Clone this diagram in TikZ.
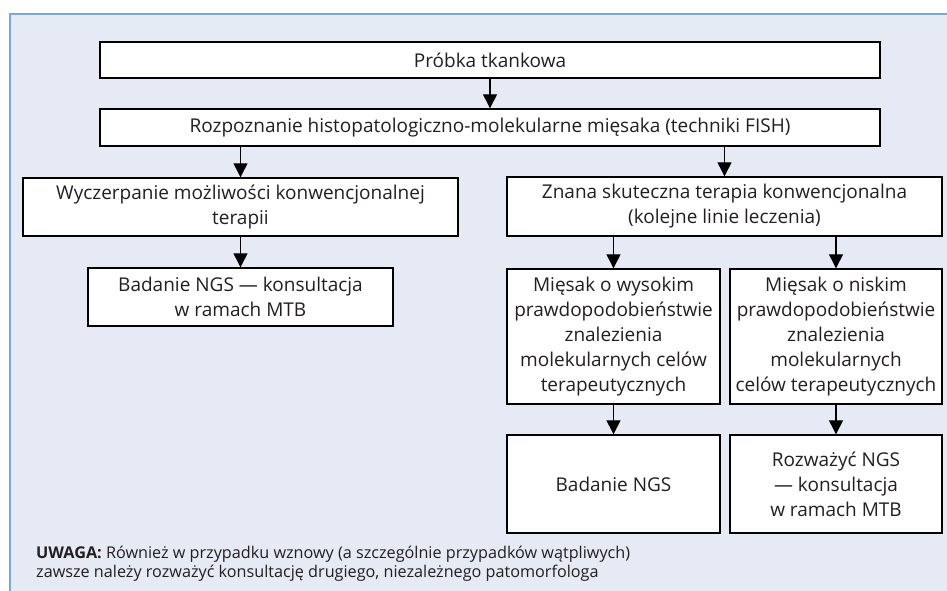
\documentclass[tikz,border=0pt]{standalone}
\usepackage{fontspec}
\setmainfont{Open Sans}
\usepackage{tikz}
\usetikzlibrary{positioning,calc,arrows.meta}
\definecolor{framefill}{RGB}{229,234,245}
\definecolor{frameline}{RGB}{128,166,212}
\definecolor{textgrey}{RGB}{35,31,32}

\tikzset{
  box/.style={draw=black, fill=white, line width=1.4pt, align=center, inner sep=0pt,
              text=textgrey, font=\fontsize{19}{25}\selectfont},
  arr/.style={line width=1.3pt, -{Triangle[length=14pt,width=14pt]}}
}

\begin{document}
\begin{tikzpicture}[x=1pt,y=-1pt]
    \useasboundingbox (0,0) rectangle (947,591);
    \fill[framefill] (10,14) rectangle (947,591);
    \draw[frameline, line width=1.6pt] (947,14) -- (10,14) -- (10,591);

    \node[box, minimum width=780, minimum height=36] (probka) at (490,60) {Próbka tkankowa};
    \node[box, minimum width=780, minimum height=37] (rozp) at (490,127.5)
      {Rozpoznanie histopatologiczno-molekularne mięsaka (techniki FISH)};

    \node[box, minimum width=435, minimum height=58] (wycz) at (240.5,207)
      {Wyczerpanie możliwości konwencjonalnej\\terapii};
    \node[box, minimum width=305, minimum height=58] (ngsmtb) at (240.5,297)
      {Badanie NGS — konsultacja\\w ramach MTB};

    \node[box, minimum width=435, minimum height=59] (znana) at (724.5,206.5)
      {Znana skuteczna terapia konwencjonalna\\(kolejne linie leczenia)};
    \node[box, minimum width=213, minimum height=135] (wysoki) at (613.5,336.5)
      {Mięsak o wysokim\\prawdopodobieństwie\\znalezienia\\molekularnych celów\\terapeutycznych};
    \node[box, minimum width=212, minimum height=135] (niski) at (836,336.5)
      {Mięsak o niskim\\prawdopodobieństwie\\znalezienia\\molekularnych\\celów terapeutycznych};
    \node[box, minimum width=213, minimum height=98] (ngs) at (613.5,484) {Badanie NGS};
    \node[box, minimum width=212, minimum height=98] (rozwaz) at (836,484)
      {Rozważyć NGS\\— konsultacja\\w ramach MTB};

    % arrows
    \draw[arr] (probka) -- (rozp);
    \draw[arr] (rozp.south -| wycz.north) -- (wycz.north);
    \draw[arr] (rozp.south -| znana.north) -- (znana.north);
    \draw[arr] (wycz) -- (ngsmtb);
    \draw[arr] (znana.south -| wysoki.north) -- (wysoki.north);
    \draw[arr] (znana.south -| niski.north) -- (niski.north);
    \draw[arr] (wysoki) -- (ngs);
    \draw[arr] (niski) -- (rozwaz);

    \node[anchor=north west, align=left, inner sep=0pt, text=textgrey,
          font=\fontsize{16.2}{19}\selectfont] (uwaga) at (36,546)
      {\textbf{UWAGA:} Również w przypadku wznowy (a szczególnie przypadków wątpliwych)\\
       zawsze należy rozważyć konsultację drugiego, niezależnego patomorfologa};
\end{tikzpicture}
\end{document}
